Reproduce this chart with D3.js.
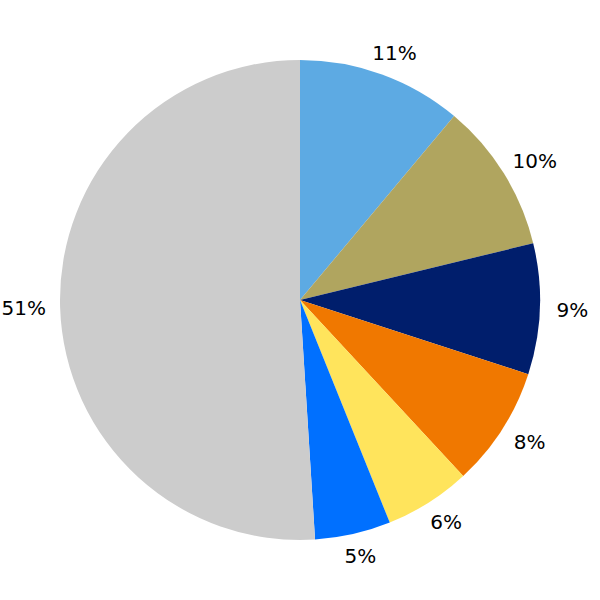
<!DOCTYPE html>
<html><head><meta charset="utf-8">
<script src="https://cdn.jsdelivr.net/npm/d3@7"></script>
<style>body{margin:0;background:#fff}</style>
</head><body>
<svg id="chart" width="600" height="600"></svg>
<script>
const labels = ["11%", "10%", "9%", "8%", "6%", "5%", "51%"];
const values = [11.1, 10.1, 8.8, 8.1, 5.8, 5.1, 51.0];
const colors = ["#5DAAE3", "#B0A55F", "#001E6C", "#F07800", "#FFE45C", "#0070FF", "#CCCCCC"];

const svg = d3.select("#chart");
const cx = 300, cy = 300, R = 240;
const g = svg.append("g").attr("transform", `translate(${cx},${cy})`);
const pie = d3.pie().sort(null).value(d => d)(values);
const arc = d3.arc().innerRadius(0).outerRadius(R);
g.selectAll("path").data(pie).join("path")
  .attr("d", arc)
  .attr("fill", (d, i) => colors[i]);
const rl = 263;
g.selectAll("text").data(pie).join("text")
  .attr("text-anchor", "middle")
  .attr("dy", "0.35em")
  .attr("font-family", "DejaVu Sans")
  .attr("font-size", 20)
  .attr("fill", "#000")
  .text((d, i) => labels[i])
  .each(function(d) {
    const a = (d.startAngle + d.endAngle) / 2;
    const s = Math.sin(a), c = Math.cos(a);
    const w = this.getComputedTextLength();
    d3.select(this).attr("x", (rl + 0.3 * w) * s).attr("y", -rl * c);
  });
</script>
</body></html>
